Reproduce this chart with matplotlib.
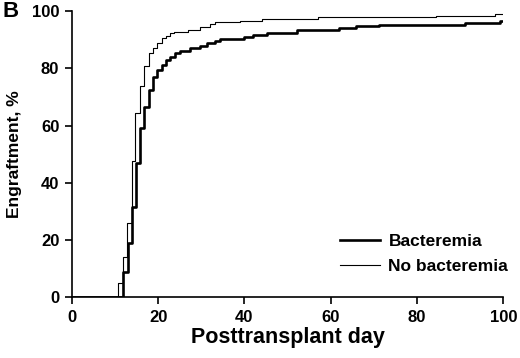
import matplotlib
matplotlib.use("Agg")
import matplotlib.pyplot as plt

plt.rcParams["font.family"] = ["Liberation Sans", "DejaVu Sans"]
plt.rcParams["font.weight"] = "bold"

# Kaplan-Meier style cumulative engraftment
bact_days = [0, 10.4, 11.8, 13.0, 14.0, 14.9, 15.8, 16.8, 18.0, 18.9, 19.8, 20.9,
             21.8, 22.8, 23.9, 25.1, 27.4, 29.7, 31.3, 33.2, 34.4, 39.8, 42.1,
             45.2, 52.3, 62.0, 65.9, 71.3, 91.1, 99.2, 100]
bact_pct = [0, 0, 8.9, 18.8, 31.5, 47.0, 59.0, 66.5, 72.4, 77.0, 79.4, 81.3,
            82.9, 83.8, 85.2, 86.1, 87.0, 87.8, 88.7, 89.6, 90.1, 90.8, 91.8,
            92.5, 93.3, 94.1, 94.7, 95.3, 95.9, 96.6, 96.6]

nobact_days = [0, 10.4, 10.7, 11.8, 12.9, 14.0, 14.7, 15.8, 16.8, 18.0, 18.9,
               19.8, 20.9, 21.8, 22.8, 23.7, 27.0, 29.6, 32.0, 33.2, 39.0,
               44.0, 57.1, 84.4, 98.1, 100]
nobact_pct = [0, 0, 5.1, 13.9, 25.8, 47.6, 64.5, 73.8, 80.8, 85.3, 87.0,
              89.0, 90.5, 91.3, 92.2, 92.6, 93.4, 94.5, 95.4, 96.2, 96.7,
              97.2, 97.8, 98.3, 98.9, 98.9]

ticks = [0, 20, 40, 60, 80, 100]

fig = plt.figure(figsize=(5.2, 3.58), dpi=100)
ax = fig.add_axes([0.138, 0.170, 0.830, 0.799])

ax.step(bact_days, bact_pct, where="post", color="black", linewidth=1.9,
        label="Bacteremia", zorder=3)
ax.step(nobact_days, nobact_pct, where="post", color="black", linewidth=0.8,
        label="No bacteremia", zorder=2)

ax.set_xlim(0, 100)
ax.set_ylim(0, 100)
ax.set_xticks(ticks)
ax.set_yticks(ticks)
ax.tick_params(axis="both", direction="out", length=5, width=1.2,
               labelsize=12, pad=4)
for lab in ax.get_xticklabels() + ax.get_yticklabels():
    lab.set_fontweight("bold")

for spine in ("top", "right"):
    ax.spines[spine].set_visible(False)
for spine in ("left", "bottom"):
    ax.spines[spine].set_linewidth(1.2)

ax.set_xlabel("Posttransplant day", fontsize=15.5, fontweight="bold", labelpad=2)
ax.set_ylabel("Engraftment, %", fontsize=12.5, fontweight="bold", labelpad=7)

ax.legend(loc="upper left", bbox_to_anchor=(0.605, 0.245), frameon=False,
          fontsize=12.5, handlelength=2.3, handletextpad=0.5, labelspacing=0.55,
          borderaxespad=0)

fig.text(0.004, 0.997, "B", fontsize=16, fontweight="bold", ha="left", va="top")

fig.savefig("out.png", dpi=100)
